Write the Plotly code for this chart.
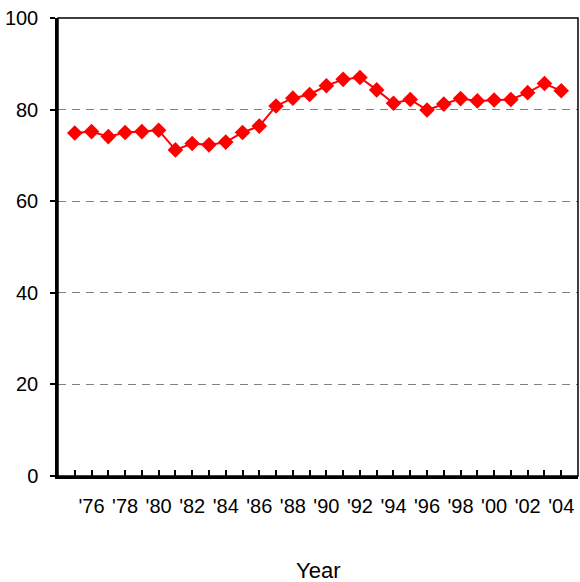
import plotly.graph_objects as go

years = list(range(1975, 2005))
values = [74.9, 75.2, 74.1, 75.0, 75.2, 75.5, 71.2, 72.6, 72.3, 72.9,
          75.0, 76.4, 80.8, 82.5, 83.3, 85.2, 86.6, 87.0, 84.3, 81.4,
          82.2, 79.9, 81.2, 82.4, 81.9, 82.1, 82.2, 83.7, 85.7, 84.1]
tick_years = years
tick_text = ["'" + str(y)[2:] if y % 2 == 0 else "" for y in years]
y_ticks = [0, 20, 40, 60, 80, 100]

fig = go.Figure()
fig.add_trace(go.Scatter(
    x=years, y=values, mode="lines+markers",
    line=dict(color="#FF0000", width=2),
    marker=dict(symbol="diamond", size=12, color="#FF0000"),
    showlegend=False,
))

font = "Liberation Sans, Arial, sans-serif"
fig.update_layout(
    width=580, height=582,
    margin=dict(l=58, r=2, t=18, b=106),
    plot_bgcolor="white", paper_bgcolor="white",
    font=dict(family=font, size=20, color="black"),
    xaxis=dict(
        range=[1974, 2005], tickvals=tick_years, ticktext=tick_text,
        ticks="inside", ticklen=6, tickwidth=1.5, tickcolor="black",
        showline=True, linecolor="black", linewidth=2.5,
        showgrid=False, zeroline=False, ticklabelstandoff=10,
        tickfont=dict(size=20),
    ),
    yaxis=dict(
        range=[0, 100], tickvals=y_ticks,
        ticks="outside", ticklen=5, tickwidth=1.5, tickcolor="black",
        showline=True, linecolor="black", linewidth=2.5,
        showgrid=True, gridcolor="#808080", griddash="8px,6px", gridwidth=1.3,
        zeroline=False, ticklabelstandoff=8,
        tickfont=dict(size=20),
    ),
    shapes=[dict(type="rect", xref="paper", yref="paper", x0=0, x1=1, y0=0, y1=1,
                 line=dict(color="black", width=1.5), layer="above")],
    annotations=[dict(text="Year", xref="paper", yref="paper", x=0.5, y=-0.207,
                      xanchor="center", yanchor="middle", showarrow=False,
                      font=dict(size=22, family=font))],
)
fig.write_html("out.html", config={"displayModeBar": False},
               post_script="document.body.style.margin='0';")
